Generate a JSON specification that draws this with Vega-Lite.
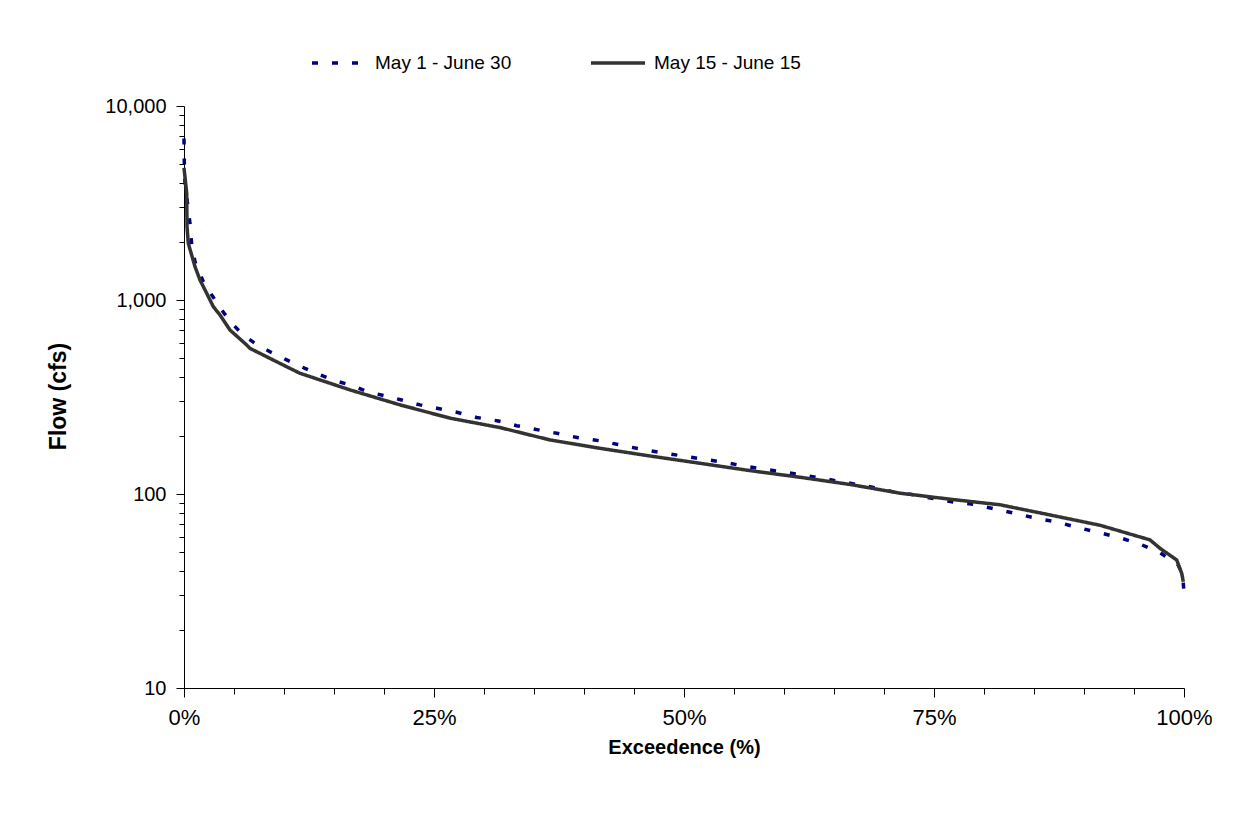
{
  "$schema": "https://vega.github.io/schema/vega-lite/v6.json",
  "autosize": {"type": "none"},
  "padding": {"left": 184, "top": 106, "right": 60, "bottom": 128},
  "width": 1000,
  "height": 582,
  "background": "white",
  "config": {
    "view": {"stroke": null},
    "axis": {"labelFont": "Liberation Sans", "titleFont": "Liberation Sans", "labelColor": "black", "titleColor": "black", "domainColor": "black", "tickColor": "black", "grid": false, "labelFlush": false, "labelOverlap": false},
    "legend": {"labelFont": "Liberation Sans", "labelFontSize": 19, "labelColor": "black"}
  },
  "data": {"values": [
    {"series": "May 1 - June 30", "pct": 0, "flow": 6800},
    {"series": "May 1 - June 30", "pct": 0.03, "flow": 5160},
    {"series": "May 1 - June 30", "pct": 0.1, "flow": 4010},
    {"series": "May 1 - June 30", "pct": 0.6, "flow": 2485},
    {"series": "May 1 - June 30", "pct": 0.77, "flow": 1923},
    {"series": "May 1 - June 30", "pct": 1.1, "flow": 1574},
    {"series": "May 1 - June 30", "pct": 1.93, "flow": 1243},
    {"series": "May 1 - June 30", "pct": 2.77, "flow": 1062},
    {"series": "May 1 - June 30", "pct": 3.77, "flow": 888},
    {"series": "May 1 - June 30", "pct": 4.77, "flow": 759},
    {"series": "May 1 - June 30", "pct": 5.93, "flow": 660},
    {"series": "May 1 - June 30", "pct": 7.1, "flow": 598},
    {"series": "May 1 - June 30", "pct": 8.6, "flow": 541},
    {"series": "May 1 - June 30", "pct": 10.27, "flow": 491},
    {"series": "May 1 - June 30", "pct": 12.1, "flow": 444},
    {"series": "May 1 - June 30", "pct": 13.6, "flow": 411},
    {"series": "May 1 - June 30", "pct": 15.27, "flow": 382},
    {"series": "May 1 - June 30", "pct": 16.93, "flow": 360},
    {"series": "May 1 - June 30", "pct": 18.43, "flow": 335},
    {"series": "May 1 - June 30", "pct": 20.1, "flow": 321},
    {"series": "May 1 - June 30", "pct": 21.77, "flow": 305},
    {"series": "May 1 - June 30", "pct": 23.6, "flow": 288},
    {"series": "May 1 - June 30", "pct": 25.43, "flow": 276},
    {"series": "May 1 - June 30", "pct": 27.27, "flow": 264},
    {"series": "May 1 - June 30", "pct": 29.27, "flow": 248},
    {"series": "May 1 - June 30", "pct": 31.43, "flow": 238},
    {"series": "May 1 - June 30", "pct": 33.27, "flow": 225},
    {"series": "May 1 - June 30", "pct": 35.43, "flow": 214},
    {"series": "May 1 - June 30", "pct": 37.43, "flow": 205},
    {"series": "May 1 - June 30", "pct": 39.43, "flow": 195},
    {"series": "May 1 - June 30", "pct": 41.6, "flow": 188},
    {"series": "May 1 - June 30", "pct": 43.6, "flow": 179},
    {"series": "May 1 - June 30", "pct": 45.77, "flow": 170},
    {"series": "May 1 - June 30", "pct": 47.77, "flow": 163},
    {"series": "May 1 - June 30", "pct": 49.93, "flow": 157},
    {"series": "May 1 - June 30", "pct": 51.93, "flow": 151},
    {"series": "May 1 - June 30", "pct": 53.93, "flow": 146},
    {"series": "May 1 - June 30", "pct": 56.1, "flow": 139},
    {"series": "May 1 - June 30", "pct": 58.1, "flow": 134},
    {"series": "May 1 - June 30", "pct": 60.27, "flow": 129},
    {"series": "May 1 - June 30", "pct": 62.43, "flow": 124},
    {"series": "May 1 - June 30", "pct": 64.43, "flow": 119},
    {"series": "May 1 - June 30", "pct": 66.43, "flow": 114},
    {"series": "May 1 - June 30", "pct": 68.6, "flow": 109},
    {"series": "May 1 - June 30", "pct": 70.77, "flow": 103},
    {"series": "May 1 - June 30", "pct": 72.77, "flow": 99.5},
    {"series": "May 1 - June 30", "pct": 74.77, "flow": 95},
    {"series": "May 1 - June 30", "pct": 76.93, "flow": 91},
    {"series": "May 1 - June 30", "pct": 78.93, "flow": 88.5},
    {"series": "May 1 - June 30", "pct": 81.1, "flow": 83.7},
    {"series": "May 1 - June 30", "pct": 83.1, "flow": 79.5},
    {"series": "May 1 - June 30", "pct": 85.27, "flow": 74.8},
    {"series": "May 1 - June 30", "pct": 87.27, "flow": 71.9},
    {"series": "May 1 - June 30", "pct": 89.27, "flow": 67.3},
    {"series": "May 1 - June 30", "pct": 91.43, "flow": 63.4},
    {"series": "May 1 - June 30", "pct": 93.6, "flow": 59.5},
    {"series": "May 1 - June 30", "pct": 95.6, "flow": 55.2},
    {"series": "May 1 - June 30", "pct": 97.6, "flow": 49.8},
    {"series": "May 1 - June 30", "pct": 99.43, "flow": 43},
    {"series": "May 1 - June 30", "pct": 99.87, "flow": 38},
    {"series": "May 1 - June 30", "pct": 100, "flow": 31},
    {"series": "May 15 - June 15", "pct": 0, "flow": 4800},
    {"series": "May 15 - June 15", "pct": 0.27, "flow": 3550},
    {"series": "May 15 - June 15", "pct": 0.3, "flow": 2390},
    {"series": "May 15 - June 15", "pct": 0.43, "flow": 1960},
    {"series": "May 15 - June 15", "pct": 1.1, "flow": 1485},
    {"series": "May 15 - June 15", "pct": 1.6, "flow": 1268},
    {"series": "May 15 - June 15", "pct": 2.27, "flow": 1083},
    {"series": "May 15 - June 15", "pct": 2.93, "flow": 924},
    {"series": "May 15 - June 15", "pct": 3.6, "flow": 837},
    {"series": "May 15 - June 15", "pct": 4.6, "flow": 700},
    {"series": "May 15 - June 15", "pct": 6.27, "flow": 586},
    {"series": "May 15 - June 15", "pct": 6.6, "flow": 563},
    {"series": "May 15 - June 15", "pct": 9.93, "flow": 462},
    {"series": "May 15 - June 15", "pct": 11.6, "flow": 419},
    {"series": "May 15 - June 15", "pct": 16.6, "flow": 344},
    {"series": "May 15 - June 15", "pct": 21.6, "flow": 288},
    {"series": "May 15 - June 15", "pct": 26.6, "flow": 246},
    {"series": "May 15 - June 15", "pct": 31.6, "flow": 220},
    {"series": "May 15 - June 15", "pct": 36.6, "flow": 190},
    {"series": "May 15 - June 15", "pct": 41.6, "flow": 172},
    {"series": "May 15 - June 15", "pct": 46.6, "flow": 157},
    {"series": "May 15 - June 15", "pct": 51.6, "flow": 144},
    {"series": "May 15 - June 15", "pct": 56.6, "flow": 132},
    {"series": "May 15 - June 15", "pct": 61.6, "flow": 122},
    {"series": "May 15 - June 15", "pct": 66.6, "flow": 112},
    {"series": "May 15 - June 15", "pct": 71.6, "flow": 101},
    {"series": "May 15 - June 15", "pct": 76.6, "flow": 94},
    {"series": "May 15 - June 15", "pct": 81.6, "flow": 88},
    {"series": "May 15 - June 15", "pct": 86.6, "flow": 78},
    {"series": "May 15 - June 15", "pct": 91.6, "flow": 69},
    {"series": "May 15 - June 15", "pct": 96.6, "flow": 58},
    {"series": "May 15 - June 15", "pct": 97.6, "flow": 52.5},
    {"series": "May 15 - June 15", "pct": 99.27, "flow": 45.7},
    {"series": "May 15 - June 15", "pct": 99.77, "flow": 39},
    {"series": "May 15 - June 15", "pct": 99.93, "flow": 35.3}
  ]},
  "resolve": {"axis": {"x": "independent", "y": "independent"}},
  "layer": [
    {
      "mark": {"type": "line", "opacity": 0},
      "encoding": {
        "x": {"field": "pct", "type": "quantitative", "scale": {"domain": [0, 100], "nice": false, "zero": false},
          "axis": {"orient": "bottom", "values": [0,5,10,15,20,30,35,40,45,55,60,65,70,80,85,90,95], "labels": false, "title": null, "tickSize": 6, "domain": false}},
        "y": {"field": "flow", "type": "quantitative", "scale": {"type": "log", "domain": [10, 10000], "nice": false},
          "axis": {"orient": "left", "values": [20,30,40,50,60,70,80,90,200,300,400,500,600,700,800,900,2000,3000,4000,5000,6000,7000,8000,9000], "labels": false, "title": null, "tickSize": 5, "domain": false}},
        "detail": {"field": "series"}
      }
    },
    {
      "mark": {"type": "line", "strokeWidth": 3.5},
      "encoding": {
        "x": {"field": "pct", "type": "quantitative", "scale": {"domain": [0, 100], "nice": false, "zero": false},
          "axis": {"orient": "bottom", "values": [0, 25, 50, 75, 100], "labelExpr": "datum.value + '%'", "labelFontSize": 22, "tickSize": 9, "labelPadding": 10, "title": "Exceedence (%)", "titleFontSize": 20, "titleFontWeight": "bold", "titleY": 49, "titleBaseline": "top", "domainWidth": 1}},
        "y": {"field": "flow", "type": "quantitative", "scale": {"type": "log", "domain": [10, 10000], "nice": false},
          "axis": {"orient": "left", "values": [10, 100, 1000, 10000], "format": ",", "labelFontSize": 20, "tickSize": 8, "labelPadding": 10, "title": "Flow (cfs)", "titleFontSize": 23, "titleFontWeight": "bold", "titleX": -114, "titleY": 290, "domainWidth": 1}},
        "color": {"field": "series", "type": "nominal", "title": null,
          "scale": {"domain": ["May 1 - June 30", "May 15 - June 15"], "range": ["#000080", "#333333"]},
          "legend": {"orient": "none", "legendX": 126, "legendY": -72, "direction": "horizontal", "symbolType": "stroke", "symbolSize": 2916, "symbolStrokeWidth": 3.5, "labelOffset": 7, "columnPadding": 72}},
        "strokeDash": {"field": "series", "type": "nominal", "title": null,
          "scale": {"domain": ["May 1 - June 30", "May 15 - June 15"], "range": [[6, 14], [1, 0]]}}
      }
    }
  ]
}
